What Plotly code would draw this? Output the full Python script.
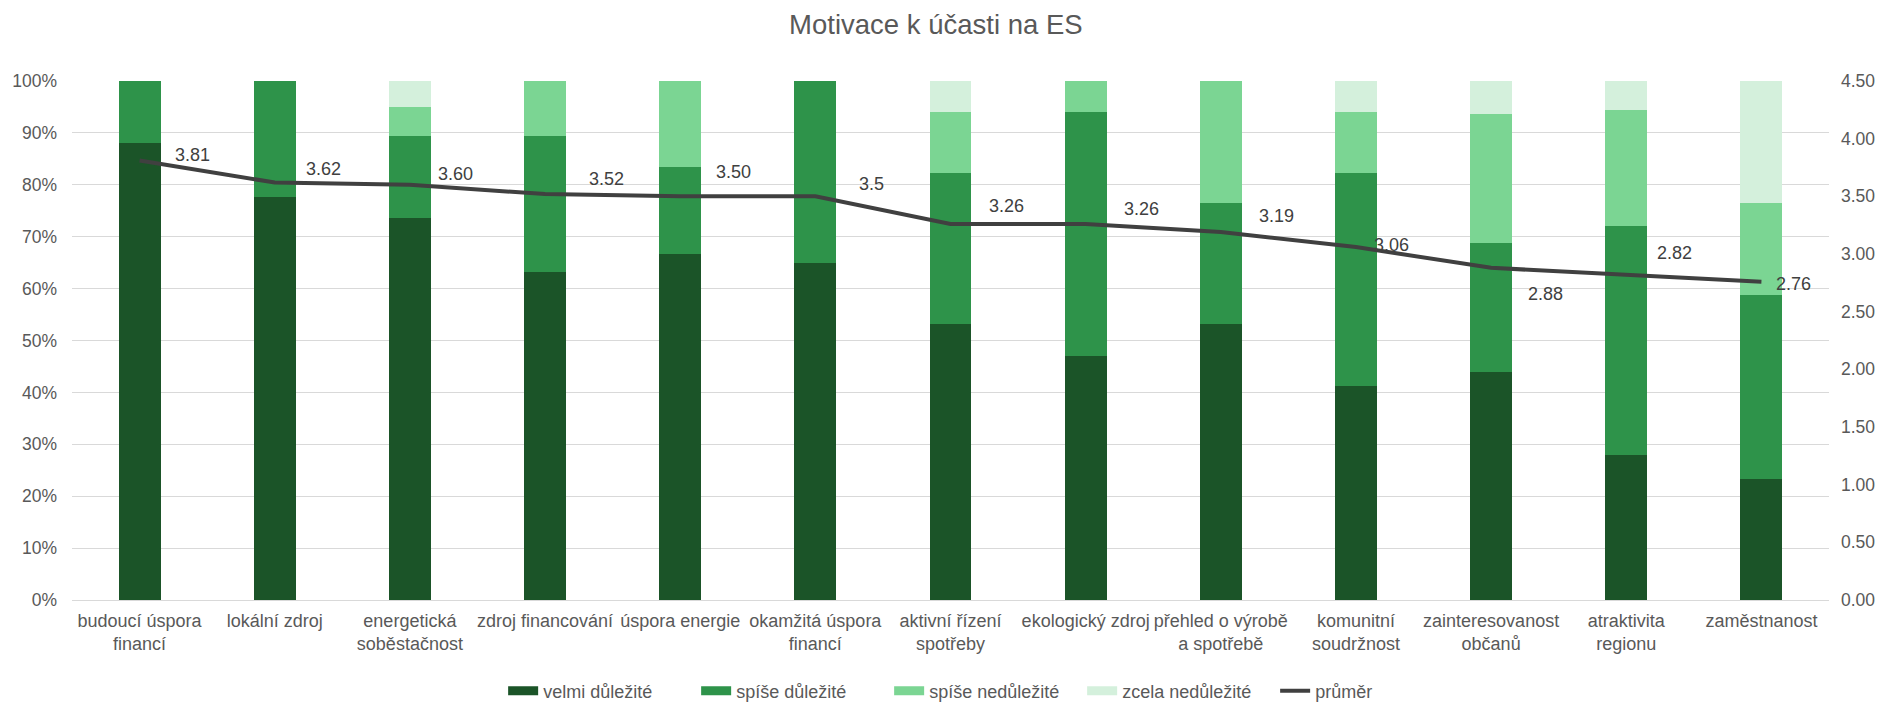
import plotly.graph_objects as go

categories = [
    "budoucí úspora<br>financí", "lokální zdroj", "energetická<br>soběstačnost",
    "zdroj financování", "úspora energie", "okamžitá úspora<br>financí",
    "aktivní řízení<br>spotřeby", "ekologický zdroj", "přehled o výrobě<br>a spotřebě",
    "komunitní<br>soudržnost", "zainteresovanost<br>občanů", "atraktivita<br>regionu",
    "zaměstnanost",
]
velmi = [0.881, 0.777, 0.737, 0.632, 0.666, 0.649, 0.531, 0.471, 0.531, 0.412, 0.440, 0.279, 0.234]
spise_dul = [0.119, 0.223, 0.158, 0.263, 0.168, 0.351, 0.291, 0.470, 0.234, 0.410, 0.247, 0.442, 0.354]
spise_nedul = [0.000, 0.000, 0.054, 0.105, 0.166, 0.000, 0.119, 0.059, 0.235, 0.119, 0.250, 0.223, 0.177]
zcela_nedul = [0.000, 0.000, 0.051, 0.000, 0.000, 0.000, 0.059, 0.000, 0.000, 0.059, 0.063, 0.056, 0.235]
prumer = [3.81, 3.62, 3.60, 3.52, 3.50, 3.50, 3.26, 3.26, 3.19, 3.06, 2.88, 2.82, 2.76]
prumer_labels = ["3.81", "3.62", "3.60", "3.52", "3.50", "3.5", "3.26", "3.26", "3.19", "3.06", "2.88", "2.82", "2.76"]
left_ticks = [0, 0.1, 0.2, 0.3, 0.4, 0.5, 0.6, 0.7, 0.8, 0.9, 1.0]
right_ticks = [0, 0.5, 1.0, 1.5, 2.0, 2.5, 3.0, 3.5, 4.0, 4.5]

# label offsets in pixels (style only)
label_dx = [33, 29, 26, 42, 34, 42, 36, 36, 36, 16, 35, 29, 13]
label_dy = [6, 13, 11, 15, 24, 12, 18, 15, 16, 2, -26, 22, -2]

FONT = "Liberation Sans, Arial, sans-serif"
GRAY = "#595959"

fig = go.Figure()
series = [
    ("velmi důležité", velmi, "#1B5428"),
    ("spíše důležité", spise_dul, "#2E934A"),
    ("spíše nedůležité", spise_nedul, "#7BD593"),
    ("zcela nedůležité", zcela_nedul, "#D4F0DC"),
]
for name, vals, col in series:
    fig.add_trace(go.Bar(x=categories, y=vals, name=name, legendgroup=name, showlegend=False,
                         marker=dict(color=col, line=dict(width=0)), yaxis="y"))
    # legend entry drawn as a wide swatch (Excel style)
    fig.add_trace(go.Scatter(x=[None], y=[None], name=name, legendgroup=name, mode="lines",
                             line=dict(color=col, width=9), yaxis="y"))

fig.add_trace(go.Scatter(x=categories, y=prumer, name="průměr", mode="lines",
                         line=dict(color="#404040", width=4), yaxis="y2"))

for c, v, t, dx, dy in zip(categories, prumer, prumer_labels, label_dx, label_dy):
    fig.add_annotation(x=c, y=v, yref="y2", xref="x", text=t, showarrow=False,
                       xanchor="left", yanchor="middle", xshift=dx, yshift=dy,
                       font=dict(family=FONT, size=18, color="#404040"))

fig.update_layout(
    width=1883, height=702,
    barmode="stack", bargap=0.69,
    plot_bgcolor="white", paper_bgcolor="white",
    margin=dict(l=72, r=54, t=81, b=102, autoexpand=False),
    font=dict(family=FONT, size=18, color=GRAY),
    title=dict(text="Motivace k účasti na ES", x=0.497, xanchor="center",
               y=1 - 24 / 702, yanchor="middle", font=dict(family=FONT, size=27.5, color=GRAY)),
    xaxis=dict(showgrid=False, tickfont=dict(size=18, color=GRAY), showline=True,
               linecolor="#D9D9D9", linewidth=1, ticks="", ticklabelstandoff=4, automargin=False),
    yaxis=dict(range=[0, 1], tickvals=left_ticks, tickformat=".0%", showgrid=True,
               gridcolor="#D9D9D9", gridwidth=1, zeroline=False, automargin=False,
               tickfont=dict(size=17.5, color=GRAY), ticks="", ticklabelstandoff=14),
    yaxis2=dict(range=[0, 4.5], tickvals=right_ticks, tickformat=".2f", overlaying="y",
                side="right", showgrid=False, zeroline=False, ticks="", automargin=False,
                tickfont=dict(size=17.5, color=GRAY), ticklabelstandoff=11),
    legend=dict(orientation="h", x=0.52, xanchor="center", yref="container", y=1 - 691 / 702,
                yanchor="middle", font=dict(size=18, color=GRAY), traceorder="normal",
                entrywidth=148, entrywidthmode="pixels"),
)

fig.write_html(
    "out.html",
    config={"displayModeBar": False},
    post_script="document.body.style.margin='0';document.body.style.overflow='hidden';"
                "document.documentElement.style.overflow='hidden';",
)
